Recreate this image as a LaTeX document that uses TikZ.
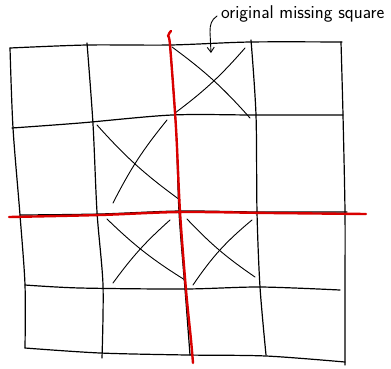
\documentclass[tikz,border=0pt]{standalone}
\usepackage{tikz}
\usetikzlibrary{arrows.meta}

\tikzset{
  gridline/.style={black, line width=1.2pt, line join=round, line cap=round},
  cutline/.style={red!85!black, line width=2.4pt, line join=round, line cap=round},
  crossmark/.style={black, line width=0.9pt, line cap=round},
  note/.style={font=\sffamily\fontsize{18.5}{20}\selectfont, inner sep=0pt, anchor=base west},
}

\begin{document}
\begin{tikzpicture}[x=1pt,y=-1pt]
    \useasboundingbox[fill=white] (0,0) rectangle (391,368);
    % rows
    \draw[gridline] plot[smooth] coordinates {(10,48) (87,45) (170,45) (250,42) (342,42)};
    \draw[gridline] plot[smooth] coordinates {(12,128) (80,123) (172,115) (255,115) (343,115)};
    \draw[gridline] plot[smooth] coordinates {(20,215) (100,214) (180,211) (260,212) (347,212)};
    \draw[gridline] plot[smooth] coordinates {(25,285) (80,288) (185,289) (260,287) (340,290)};
    \draw[gridline] plot[smooth] coordinates {(25,348) (100,353) (187,355) (266,356) (345,362)};
    % columns
    \draw[gridline] plot[smooth] coordinates {(10,48) (13,128) (20,215) (25,285) (25,348)};
    \draw[gridline] plot[smooth] coordinates {(87,43) (93,124) (97,212) (103,285) (102,358)};
    \draw[gridline] plot[smooth] coordinates {(170,45) (176,128) (179,212) (185,289) (190,355)};
    \draw[gridline] plot[smooth] coordinates {(251,40) (256,115) (257,212) (260,287) (266,355)};
    \draw[gridline] plot[smooth] coordinates {(341,42) (343,115) (345,212) (345,290) (345,365)};
    % crossed squares
    \draw[crossmark] (172,47) to[bend left=6] (250,118);
    \draw[crossmark] (175,113) to[bend right=6] (245,48);
    \draw[crossmark] (97,125) to[bend right=6] (180,200);
    \draw[crossmark] (113,203) to[bend left=6] (167,120);
    \draw[crossmark] (107,219) to[bend right=6] (185,280);
    \draw[crossmark] (113,283) to[bend left=6] (170,220);
    \draw[crossmark] (187,219) to[bend right=6] (255,277);
    \draw[crossmark] (193,285) to[bend left=8] (252,220);
    % cuts
    \draw[cutline] plot[smooth] coordinates {(9,217) (100,215) (180,212) (270,213) (366,214)};
    \draw[cutline] plot[smooth] coordinates {(171,31) (168,36) (170,45) (176,128) (180,212) (186,290) (191,340) (193,363)};
    % label
    \node[note] (missing) at (221,18) {original missing square};
    \coordinate (tip) at (211,53);
    \draw[crossmark, -{Straight Barb[length=5pt,width=7pt]}]
      ([xshift=-4pt,yshift=2pt]missing.base west) .. controls (211,20) and (210,25) .. (210,32) -- (tip);
\end{tikzpicture}
\end{document}
